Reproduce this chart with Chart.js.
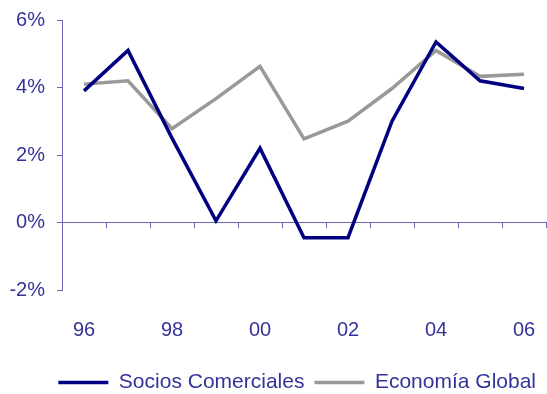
<!DOCTYPE html>
<html>
<head>
<meta charset="utf-8">
<script src="https://cdn.jsdelivr.net/npm/chart.js@4.4.1/dist/chart.umd.min.js"></script>
<style>
  html, body { margin: 0; padding: 0; background: #fff; }
  #wrap { width: 547px; height: 394px; }
</style>
</head>
<body>
<div id="wrap"><canvas id="grafico"></canvas></div>
<script>
const years = ['96', '97', '98', '99', '00', '01', '02', '03', '04', '05', '06'];
const sociosComerciales = [3.9, 5.1, 2.5, 0.05, 2.2, -0.45, -0.45, 3.0, 5.35, 4.2, 3.97];
const economiaGlobal = [4.1, 4.2, 2.78, 3.67, 4.63, 2.48, 3.0, 3.97, 5.1, 4.33, 4.39];
const yTicks = [-2, 0, 2, 4, 6];

const azulTexto = '#333399';
const azulEje = '#6666b3';
const fuente = { family: 'Liberation Sans, Arial, sans-serif', size: 20 };

// quita el margen automático que Chart.js deja para las etiquetas
const sinMargen = (scale) => {
  scale.paddingTop = 0;
  scale.paddingBottom = 0;
  scale.paddingLeft = 0;
  scale.paddingRight = 0;
};

new Chart(document.getElementById('grafico'), {
  type: 'line',
  data: {
    labels: years,
    datasets: [
      {
        label: 'Socios Comerciales',
        data: sociosComerciales,
        borderColor: '#000080',
        backgroundColor: '#000080',
        borderWidth: 3.5,
        pointRadius: 0,
        tension: 0,
        xAxisID: 'x'
      },
      {
        label: 'Economía Global',
        data: economiaGlobal,
        borderColor: '#999999',
        backgroundColor: '#999999',
        borderWidth: 3.5,
        pointRadius: 0,
        tension: 0,
        xAxisID: 'x'
      }
    ]
  },
  options: {
    responsive: true,
    maintainAspectRatio: false,
    animation: false,
    layout: { padding: { top: 20, right: 1, bottom: -9, left: 0 } },
    plugins: {
      tooltip: { enabled: false },
      legend: {
        position: 'bottom',
        align: 'end',
        labels: {
          color: azulTexto,
          font: { family: fuente.family, size: 21 },
          usePointStyle: true,
          pointStyle: 'line',
          pointStyleWidth: 50,
          padding: 10
        }
      }
    },
    scales: {
      x: {
        type: 'category',
        offset: true,
        grid: { display: false },
        border: { display: false },
        ticks: {
          color: azulTexto,
          font: fuente,
          padding: 20,
          autoSkip: false,
          maxRotation: 0,
          callback: (v, i) => (i % 2 === 0 ? years[i] : '')
        },
        afterFit: (scale) => { scale.height = 72; sinMargen(scale); }
      },
      x2: {
        type: 'category',
        labels: years,
        position: { y: 0 },
        offset: true,
        grid: {
          offset: true,
          drawOnChartArea: false,
          tickLength: 5,
          color: azulEje
        },
        border: { color: azulEje, width: 1 },
        ticks: { display: false },
        afterFit: sinMargen
      },
      y: {
        min: -2,
        max: 6,
        afterBuildTicks: (scale) => { scale.ticks = yTicks.map(v => ({ value: v })); },
        grid: {
          drawOnChartArea: false,
          tickLength: 5,
          color: azulEje
        },
        border: { color: azulEje, width: 1 },
        ticks: {
          color: azulTexto,
          font: fuente,
          padding: 12,
          callback: (v) => v + '%'
        },
        afterFit: (scale) => { scale.width = 62; sinMargen(scale); }
      }
    }
  }
});
</script>
</body>
</html>
